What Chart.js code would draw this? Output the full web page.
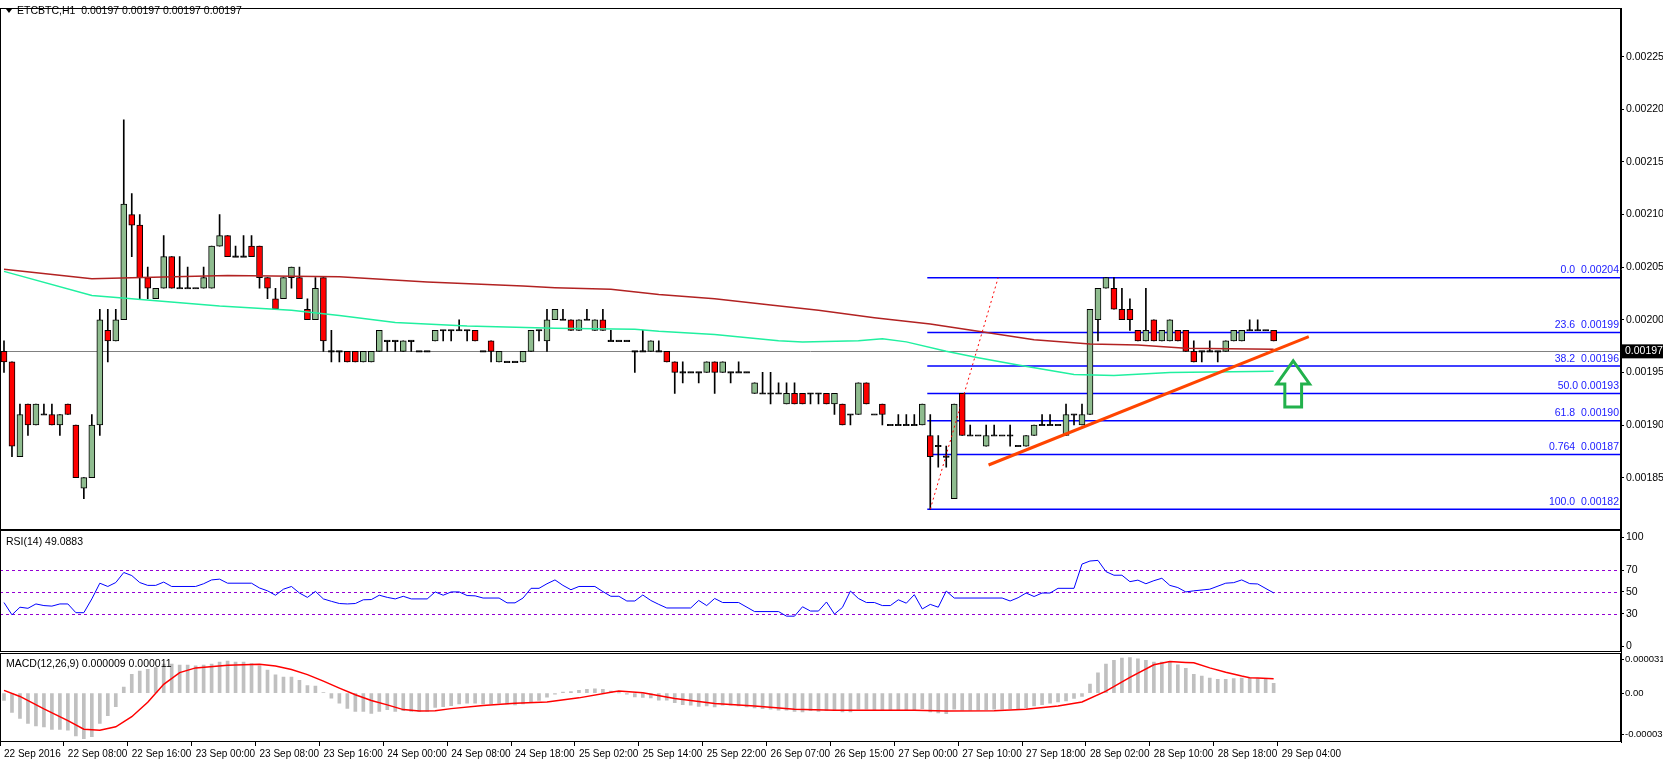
<!DOCTYPE html>
<html lang="en">
<head>
<meta charset="UTF-8">
<title>ETCBTC H1</title>
<script src="https://cdn.jsdelivr.net/npm/chart.js"></script>
<style>
    body { margin: 0; background: #fff; }
    canvas { display: block; }
</style>
</head>
<body>
<canvas id="chart" width="1663" height="763"></canvas>
<script>
// prices in units of 0.00001 BTC
const open  = [197,196,187,192,190,191,191,190,192,190,184,185,190,199,198,200,210,209,204,202,203,206,203,203,203,203,203,207,208,206,206,207,207,204,202,202,204,204,201,200,
               204,197,197,197,197,196,196,197,198,198,197,198,197,197,198,199,199,199,199,199,197,198,196,196,196,196,197,199,198,200,
               200,200,199,200,199,200,198,198,198,197,197,197,197,197,196,195,195,195,195,196,195,195,195,195,193,193,193,193,192,193,
               193,193,193,193,192,192,191,191,194,191,192,190,190,190,190,190,189,188,187,183,193,189,189,188,189,189,189,188,188,189,
               190,190,190,189,191,190,191,200,203,203,201,201,199,198,200,198,198,199,199,197,197,197,197,197,198,198,199,199,199,199];
const high  = [198,196,192,192,192,192,192,191,192,190,185,191,201,201,201,219,212,210,205,203,208,206,206,205,203,205,207,210,208,207,208,208,207,204,203,204,205,205,202,204,
               204,199,197,197,197,197,197,199,198,198,198,198,197,197,199,199,199,200,199,199,197,198,197,196,196,197,199,199,201,201,
               201,200,200,201,200,201,199,198,198,197,199,198,198,197,196,196,195,195,196,196,196,195,196,195,194,195,195,194,194,194,
               193,193,193,193,193,192,191,194,194,191,192,190,191,191,191,192,191,189,188,192,193,190,189,190,190,189,190,188,189,190,
               191,191,190,192,191,192,201,203,204,204,203,202,199,203,200,199,200,199,199,198,197,198,197,198,199,199,200,200,199,199];
const low   = [195,187,187,189,190,191,190,189,191,185,183,185,189,196,198,200,206,202,202,202,203,203,203,203,203,203,203,207,206,206,206,206,203,202,201,202,203,202,200,200,
               197,196,196,196,196,196,196,197,197,197,197,197,197,197,198,198,198,199,198,198,197,196,196,196,196,196,197,198,197,200,
               200,199,199,200,199,199,198,198,198,195,197,197,197,196,193,194,195,194,195,193,195,194,195,195,193,193,192,193,192,192,
               192,192,192,192,191,190,190,191,192,191,190,190,190,190,190,190,182,186,186,183,189,189,189,188,189,189,188,188,188,189,
               190,190,190,189,190,190,191,198,203,201,200,199,198,198,198,198,198,198,197,196,196,197,196,197,198,198,199,199,199,198];
const close = [196,188,191,190,192,191,190,191,191,185,185,190,200,198,200,211,209,204,203,203,206,203,203,203,203,204,207,208,206,206,206,206,204,203,201,204,205,202,200,203,
               198,197,197,196,196,197,197,199,198,198,198,198,197,197,199,199,199,199,199,198,197,197,197,196,196,197,199,199,200,201,
               200,199,200,200,200,199,198,198,198,197,197,198,197,196,195,195,195,195,196,195,196,195,195,195,194,193,193,193,193,192,
               192,193,193,192,193,190,191,194,192,191,191,190,190,190,190,192,187,188,187,192,189,189,189,189,189,189,189,188,189,190,
               190,190,190,191,191,191,201,203,204,201,200,200,198,199,198,199,200,198,197,196,197,197,197,198,199,199,199,199,199,198];

// moving averages read at knots
const maRedBars   = [0, 11, 16, 28, 42, 53, 65, 69, 76, 82, 89, 96, 102, 109, 116, 122, 129, 136, 142, 148, 159];
const maRedVals   = [204.8, 203.9, 204.0, 204.2, 204.1, 203.6, 203.2, 203.05, 202.9, 202.4, 202.0, 201.4, 200.9, 200.2, 199.6, 198.9, 198.1, 197.7, 197.6, 197.3, 197.2];
const maTealBars  = [0, 11, 16, 27, 36, 42, 49, 58, 69, 79, 82, 89, 97, 100, 107, 110, 113, 118, 122, 127, 134, 139, 146, 159];
const maTealVals  = [204.6, 202.3, 202.0, 201.3, 200.9, 200.4, 199.75, 199.4, 199.2, 199.1, 198.9, 198.6, 198.0, 197.9, 198.0, 198.2, 197.9, 197.0, 196.4, 195.7, 194.8, 194.7, 195.0, 195.1];

const rsiBars = [0,1,2,3,4,5,6,7,8,9,10,11,12,13,14,15,16,17,18,19,20,21,24,25,26,27,28,31,32,33,34,35,36,37,38,39,40,41,42,43,44,45,46,47,48,49,50,51,53,54,55,56,57,58,59,60,62,63,64,65,66,67,68,69,70,71,72,74,75,76,
                 77,78,79,80,81,82,83,86,87,88,89,90,92,94,97,98,99,100,101,102,103,104,105,106,107,108,109,110,111,112,113,114,115,116,117,118,119,125,126,127,128,129,130,131,132,134,135,136,137,138,139,140,141,142,143,144,145,146,147,148,
                 149,151,153,154,155,156,157,159];
const rsiVals = [40.3,29,36,35,39,37.5,37,39,39,31,31,43.6,58,55,58.6,67.8,65,58.6,56,56,59,55,55,57.5,61,61.7,58,58,53.6,51,47,52.5,55,49,45,50.5,43.6,41.4,39.4,39,39.4,42.8,43,47,45,43.6,46,43.6,43.6,50,47,50,50,46.7,46.4,44.4,44.4,40,40,44.4,53.3,53.3,57.5,61,56,52,55,55,50.3,46,
                 46,41.7,41.7,47.2,42.2,38.6,35.3,35.3,42.2,37.5,44,40.3,40.3,32,32,27.8,27.8,36.4,32.5,32.5,40.8,29.7,35.8,50.8,44,40.3,40.3,37.5,37.5,42.8,39.7,47.5,34.4,38.6,36,50.8,44.4,44.4,41.7,44.7,49,45.8,49,49,53.3,53.3,75.5,78.3,78.9,68.6,65.3,65.3,59.4,60.8,57.5,60.3,62.5,56,54,50,
                 51,52.5,58,58.5,61,57.6,57.3,49.1];
const rsiLevels = [70, 50, 30];

// MACD in units of 0.000001
const macdHist = [-6.7,-17.5,-23,-27.6,-29.8,-30.7,-33,-33,-33.7,-39,-41.4,-39.6,-27.6,-20.5,-12.3,5.5,17.2,20,21.8,23.3,26.4,26.4,25.5,25.5,24.8,25.5,26.4,28.2,29.1,28.2,28.2,27,24.8,20.9,16.6,14.7,14.7,11.7,7,6.4,
                  0.6,-4.6,-9.2,-13.8,-16.6,-16.6,-18.4,-16.6,-15,-16.6,-16,-16.6,-16.6,-16.6,-12.9,-12.3,-11.3,-9.8,-9.2,-9.2,-9.8,-9.8,-9.2,-9.8,-10.7,-9.8,-8.3,-6.7,-3.7,-0.9,0.9,1.5,2.5,3.4,4,3.4,1.8,0.3,-1,-3.4,
                  -4,-4.3,-6.4,-6.4,-8.6,-10.4,-11,-12,-11.7,-12.6,-11,-11,-11.7,-12.6,-13.5,-14.1,-14.7,-15.6,-15.6,-16.6,-17.2,-16,-16.6,-16,-16,-17.2,-17.2,-14.7,-14.7,-15.3,-15.3,-15.3,-16,-15.3,-15.3,-14.1,-17.2,-18,-18.7,-14.7,
                  -15.6,-15.6,-15.6,-15,-14.7,-14.7,-14.1,-14.7,-13.5,-11.7,-10.4,-9.2,-8,-7,-4.9,-3,8.3,18.4,26.4,30,31.9,32.5,31.3,30,28.2,28.2,28.2,25.8,22.7,17.2,15.6,13.8,12.6,12.6,13.2,13.8,13.8,13.2,13.2,9];
const signalBars = [0,2,5,8,10,12,14,16,18,20,22,24,28,32,34,36,38,40,42,44,46,48,50,52,54,56,60,64,68,72,76,77,80,84,89,94,99,104,109,114,118,124,128,132,135,138,141,144,146,148,149,151,153,155,156,157,159];
const signalVals = [2.5,-3,-14.4,-25,-32.8,-33.7,-30.7,-21.5,-8.3,8,18.7,23,25.5,26.4,24.8,21.5,16.9,11,4.6,-1.5,-6.7,-10.7,-15,-16.3,-16,-14.1,-11.3,-9.2,-8,-4.3,0.9,2,0.3,-4.9,-9.5,-11.7,-14.7,-15.6,-15.6,-15.6,-16.3,-16,-14.7,-11.7,-8,1.8,14.4,25.8,28.8,27.9,27.6,23,19,15.6,14.1,13.8,13.2];

const timeBars   = [0, 8, 16, 24, 32, 40, 48, 56, 64, 72, 80, 88, 96, 104, 112, 120, 128, 136, 144, 152, 160];
const timeLabels = ['22 Sep 2016','22 Sep 08:00','22 Sep 16:00','23 Sep 00:00','23 Sep 08:00','23 Sep 16:00','24 Sep 00:00','24 Sep 08:00','24 Sep 18:00','25 Sep 02:00',
                    '25 Sep 14:00','25 Sep 22:00','26 Sep 07:00','26 Sep 15:00','27 Sep 00:00','27 Sep 10:00','27 Sep 18:00','28 Sep 02:00','28 Sep 10:00','28 Sep 18:00','29 Sep 04:00'];

const priceTicks = [185, 190, 195, 200, 205, 210, 215, 220, 225];
const rsiTicks = [0, 30, 50, 70, 100];
const macdTicks = [-38, 0, 31];

const fibLevels = [204, 198.8, 195.6, 193, 190.4, 187.2, 182];
const fibNames  = ['0.0  0.00204', '23.6  0.00199', '38.2  0.00196', '50.0 0.00193', '61.8  0.00190', '0.764  0.00187', '100.0  0.00182'];
const fibStart = 116;
const bid = 197;
const fibRay = [[116, 182], [124.5, 204]];
const trendLine = [[123.3, 186.2], [163.4, 198.4]];
const arrowBars = [159.4, 160.4, 161.45, 162.5, 163.5];
const arrowPrices = [196.1, 193.9, 191.7];

const N = 203;
const labels = Array.from({ length: N }, (_, i) => {
    const k = timeBars.indexOf(i);
    return k >= 0 ? timeLabels[k] : '';
});

function sparse(bars, vals) {
    const out = new Array(N).fill(null);
    bars.forEach((b, i) => { out[b] = vals[i]; });
    return out;
}

const FONT = '"Liberation Sans", Arial, sans-serif';
const wicks = low.map((l, i) => [l, high[i]]);
const bodies = open.map((o, i) => o === close[i] ? [o - 0.07, o + 0.07] : [o, close[i]]);
const bodyColors = open.map((o, i) => close[i] > o ? '#8fbc8f' : (close[i] < o ? '#ff0000' : '#000000'));

const overlay = {
    id: 'overlay',
    beforeDatasetsDraw(chart) {
        const c = chart.ctx, a = chart.chartArea;
        const xs = chart.scales.x, ys = chart.scales.y, yr = chart.scales.yRsi;
        c.save();
        // bid line
        c.strokeStyle = '#808080'; c.lineWidth = 1;
        const by = Math.round(ys.getPixelForValue(bid)) + 0.5;
        c.beginPath(); c.moveTo(a.left, by); c.lineTo(a.right, by); c.stroke();
        // fibonacci levels
        c.strokeStyle = '#0000ff'; c.lineWidth = 1.5;
        c.fillStyle = '#2020ff'; c.font = '10.5px ' + FONT; c.textAlign = 'right'; c.textBaseline = 'bottom';
        const fx = xs.getPixelForValue(fibStart) - 3;
        fibLevels.forEach((v, i) => {
            const y = ys.getPixelForValue(v);
            c.beginPath(); c.moveTo(fx, y); c.lineTo(a.right, y); c.stroke();
            c.fillText(fibNames[i], a.right - 2, y - 2);
        });
        // rsi levels
        c.strokeStyle = '#9400d3'; c.lineWidth = 1; c.setLineDash([3, 3]);
        rsiLevels.forEach(v => {
            const y = Math.round(yr.getPixelForValue(v)) + 0.5;
            c.beginPath(); c.moveTo(a.left, y); c.lineTo(a.right, y); c.stroke();
        });
        c.restore();
    },
    afterDatasetsDraw(chart) {
        const c = chart.ctx;
        const xs = chart.scales.x, ys = chart.scales.y;
        const P = (b, v) => [xs.getPixelForValue(b), ys.getPixelForValue(v)];
        c.save();
        // fib ray
        c.strokeStyle = '#ff0000'; c.lineWidth = 1; c.setLineDash([2, 3]);
        let p0 = P(...fibRay[0]), p1 = P(...fibRay[1]);
        c.beginPath(); c.moveTo(...p0); c.lineTo(...p1); c.stroke();
        c.setLineDash([]);
        // trend line
        c.strokeStyle = '#ff4500'; c.lineWidth = 3;
        p0 = P(...trendLine[0]); p1 = P(...trendLine[1]);
        c.beginPath(); c.moveTo(...p0); c.lineTo(...p1); c.stroke();
        // arrow
        const [xl, xsl, xm, xsr, xr] = arrowBars.map(b => xs.getPixelForValue(b));
        const [yt, ysh, yb] = arrowPrices.map(v => ys.getPixelForValue(v));
        c.strokeStyle = '#22b14c'; c.lineWidth = 3;
        c.beginPath();
        c.moveTo(xm, yt); c.lineTo(xr, ysh); c.lineTo(xsr, ysh); c.lineTo(xsr, yb);
        c.lineTo(xsl, yb); c.lineTo(xsl, ysh); c.lineTo(xl, ysh); c.closePath(); c.stroke();
        c.restore();
    },
    afterDraw(chart) {
        const c = chart.ctx, a = chart.chartArea;
        const ys = chart.scales.y, yr = chart.scales.yRsi, ym = chart.scales.yMacd;
        c.save();
        c.strokeStyle = '#000'; c.lineWidth = 1;
        [ys, yr, ym].forEach(s => {
            c.strokeRect(a.left + 0.5, Math.round(s.top) + 0.5, a.right - a.left - 1, Math.round(s.bottom - s.top) - 1);
        });
        c.font = '10.5px ' + FONT; c.fillStyle = '#000'; c.textAlign = 'left'; c.textBaseline = 'middle';
        c.beginPath(); c.moveTo(6, 9); c.lineTo(12, 9); c.lineTo(9, 13); c.closePath(); c.fill();
        c.fillText('ETCBTC,H1  0.00197 0.00197 0.00197 0.00197', 17, 11);
        c.fillText('RSI(14) 49.0883', 6, yr.top + 12);
        c.fillText('MACD(12,26,9) 0.000009 0.000011', 6, ym.top + 12);
        // bid label on axis
        const by = ys.getPixelForValue(bid);
        c.fillStyle = '#000'; c.fillRect(a.right + 1, by - 7, 42, 14);
        c.fillStyle = '#fff'; c.fillText((bid / 1e5).toFixed(5), a.right + 4, by);
        c.restore();
    }
};

const fixWidth = s => { s.width = 42; };
const tickFont = { family: FONT, size: 10.5 };
const smallFont = { family: FONT, size: 9.5 };

new Chart(document.getElementById('chart'), {
    type: 'bar',
    data: {
        labels: labels,
        datasets: [
            { type: 'line', data: sparse(maRedBars, maRedVals), yAxisID: 'y', borderColor: '#b22222', borderWidth: 1.5, pointRadius: 0, spanGaps: true, order: 3 },
            { type: 'line', data: sparse(maTealBars, maTealVals), yAxisID: 'y', borderColor: '#20f0a0', borderWidth: 1.5, pointRadius: 0, spanGaps: true, order: 3 },
            { data: wicks, yAxisID: 'y', backgroundColor: '#000', barThickness: 1, grouped: false, order: 6 },
            { data: bodies, yAxisID: 'y', backgroundColor: bodyColors, borderColor: '#000', borderWidth: 1, borderSkipped: false, barThickness: 6, grouped: false, order: 5 },
            { type: 'line', data: sparse(rsiBars, rsiVals), yAxisID: 'yRsi', borderColor: '#0000ff', borderWidth: 1, pointRadius: 0, spanGaps: true, order: 3 },
            { data: macdHist.map(v => [0, v]), yAxisID: 'yMacd', backgroundColor: '#c0c0c0', barThickness: 3, grouped: false, order: 6 },
            { type: 'line', data: sparse(signalBars, signalVals), yAxisID: 'yMacd', borderColor: '#ff0000', borderWidth: 1.5, pointRadius: 0, spanGaps: true, order: 3 }
        ]
    },
    options: {
        responsive: false,
        animation: false,
        devicePixelRatio: 1,
        layout: { padding: { top: 4, left: 0, right: 0, bottom: 0 } },
        plugins: { legend: { display: false }, tooltip: { enabled: false } },
        scales: {
            x: {
                type: 'category',
                offset: true,
                afterFit: s => { s.height = 21; },
                grid: { drawOnChartArea: false, tickLength: 4, color: ctx => labels[ctx.index] ? '#000' : 'rgba(0,0,0,0)' },
                border: { display: false },
                ticks: { autoSkip: false, maxRotation: 0, align: 'start', padding: 2, color: '#000', font: { family: FONT, size: 10 } }
            },
            y: {
                position: 'right', stack: 'pane', stackWeight: 525, weight: 1,
                min: 180, max: 229.6,
                afterFit: fixWidth,
                afterBuildTicks: s => { s.ticks = priceTicks.map(v => ({ value: v })); },
                grid: { drawOnChartArea: false, tickLength: 3, color: '#000' },
                border: { color: '#000' },
                ticks: { padding: 2, color: '#000', font: tickFont, callback: v => (v / 1e5).toFixed(5) }
            },
            yRsi: {
                position: 'right', stack: 'pane', stackWeight: 123, weight: 2,
                min: -5.5, max: 106.5,
                afterFit: fixWidth,
                afterBuildTicks: s => { s.ticks = rsiTicks.map(v => ({ value: v })); },
                grid: { drawOnChartArea: false, tickLength: 3, color: '#000' },
                border: { color: '#000' },
                ticks: { padding: 2, color: '#000', font: tickFont }
            },
            yMacd: {
                position: 'right', stack: 'pane', stackWeight: 90, weight: 3,
                min: -44.5, max: 37,
                afterFit: fixWidth,
                afterBuildTicks: s => { s.ticks = macdTicks.map(v => ({ value: v })); },
                grid: { drawOnChartArea: false, tickLength: 3, color: '#000' },
                border: { color: '#000' },
                ticks: { padding: 1, color: '#000', font: smallFont, callback: v => v === 0 ? '0.00' : (v / 1e6).toFixed(6) }
            }
        }
    },
    plugins: [overlay]
});
</script>
</body>
</html>
